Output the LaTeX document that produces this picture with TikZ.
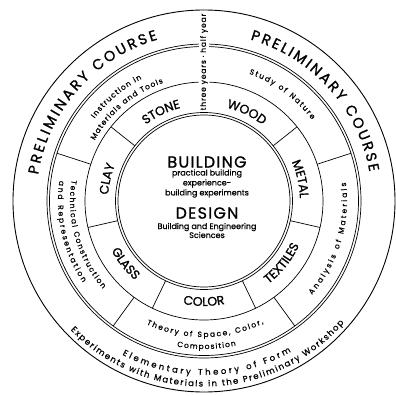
\documentclass[tikz,border=0pt]{standalone}
\usepackage{fontspec}
\setmainfont{Poppins}
\usetikzlibrary{decorations.text}

\newcommand\ringcaps{\fontsize{14.5}{14.5}\selectfont\addfontfeature{FakeBold=1.2}}
\newcommand\sectorcaps{\fontsize{12.5}{12.5}\selectfont\addfontfeature{FakeBold=1.2}}
\newcommand\ringsmall{\fontsize{7.5}{8}\selectfont\addfontfeature{FakeBold=0.8}}
\newcommand\rimsmall{\fontsize{8.5}{9}\selectfont\addfontfeature{FakeBold=0.8}}

\begin{document}
\begin{tikzpicture}[
  rim/.style={line width=0.9pt},
  ring/.style={line width=0.7pt},
  fit text/.style={decorate, decoration={text along path, text={#1}, text align={fit to path}}},
  mid text/.style={decorate, decoration={text along path, text={#1}, text align=center}},
]
\useasboundingbox (-204bp,-195bp) rectangle (192bp,201bp);
% rings
\draw[ring] (0,0) circle (157bp) (0,0) circle (154.5bp);
\draw[ring] (0,0) circle (119bp);
\draw[ring] (0,0) circle (88.5bp) (0,0) circle (86bp);
% sector walls
\foreach \a in {1,...,6}
  \draw[ring] ({90+\a*360/7}:88.5bp) -- ({90+\a*360/7}:119bp);
\foreach \a in {1,...,4}
  \draw[ring] ({90+\a*72}:119bp) -- ({90+\a*72}:154.5bp);
\node[rotate=90, fill=white, inner xsep=2bp, inner ysep=1.5bp, font=\fontsize{7.5}{8}\selectfont\addfontfeature{LetterSpace=12,FakeBold=0.8}] (span) at (90:139bp) {three years · half year};
\draw[rim] (0,0) circle (191bp);
% outer ring
\path[fit text={|\ringcaps|PRELIMINARY COURSE}] (171:168bp) arc[start angle=171, end angle=106, radius=168bp];
\path[fit text={|\ringcaps|PRELIMINARY COURSE}] (74:168bp) arc[start angle=74, end angle=10, radius=168bp];
\path[fit text={|\rimsmall|Elementary Theory of Form}] (242:174bp) arc[start angle=242, end angle=300, radius=174bp];
\path[fit text={|\rimsmall|Experiments with Materials in the Preliminary Workshop}] (224:185.5bp) arc[start angle=224, end angle=319, radius=185.5bp];
% middle ring
\path[fit text={|\ringsmall|Instruction in}] (143:137bp) arc[start angle=143, end angle=117, radius=137bp];
\path[fit text={|\ringsmall|Materials and Tools}] (151:125bp) arc[start angle=151, end angle=109, radius=125bp];
\path[fit text={|\ringsmall|Study of Nature}] (70.5:135bp) arc[start angle=70.5, end angle=37, radius=135bp];
\path[fit text={|\ringsmall|Analysis of Materials}] (-41:143bp) arc[start angle=-41, end angle=7.5, radius=143bp];
\path[fit text={|\ringsmall|Theory of Space, Color,}] (245:136bp) arc[start angle=245, end angle=296, radius=136bp];
\path[fit text={|\ringsmall|Composition}] (259.5:148bp) arc[start angle=259.5, end angle=282.5, radius=148bp];
\path[fit text={|\ringsmall|Technical Construction}] (171:134bp) arc[start angle=171, end angle=221, radius=134bp];
\path[fit text={|\ringsmall|and Representation}] (172:146bp) arc[start angle=172, end angle=214, radius=146bp];
% workshop ring
\path[mid text={|\sectorcaps|STONE}] (141.4:96bp) arc[start angle=141.4, end angle=90, radius=96bp];
\path[mid text={|\sectorcaps|WOOD}] (90:96bp) arc[start angle=90, end angle=38.6, radius=96bp];
\path[mid text={|\sectorcaps|METAL}] (38.6:96bp) arc[start angle=38.6, end angle=-12.9, radius=96bp];
\path[mid text={|\sectorcaps|CLAY}] (192.9:96bp) arc[start angle=192.9, end angle=141.4, radius=96bp];
\path[mid text={|\sectorcaps|TEXTILES}] (-64.3:105bp) arc[start angle=-64.3, end angle=-12.9, radius=105bp];
\path[mid text={|\sectorcaps|COLOR}] (244.3:105bp) arc[start angle=244.3, end angle=295.7, radius=105bp];
\path[mid text={|\sectorcaps|GLASS}] (192.9:105bp) arc[start angle=192.9, end angle=244.3, radius=105bp];
% centre
\node[font=\fontsize{16}{16}\selectfont\addfontfeature{LetterSpace=8,FakeBold=1}] (build) at (3bp,39bp) {BUILDING};
\node[font=\fontsize{8}{10}\selectfont\addfontfeature{FakeBold=0.8}, align=center] (buildsub) at (3bp,17.5bp) {practical building\\experience-\\building experiments};
\node[font=\fontsize{16}{16}\selectfont\addfontfeature{LetterSpace=8,FakeBold=1}] (design) at (3bp,-12bp) {DESIGN};
\node[font=\fontsize{8}{9}\selectfont\addfontfeature{FakeBold=0.8}, align=center] (designsub) at (3bp,-29.5bp) {Building and Engineering\\Sciences};
\end{tikzpicture}
\end{document}
